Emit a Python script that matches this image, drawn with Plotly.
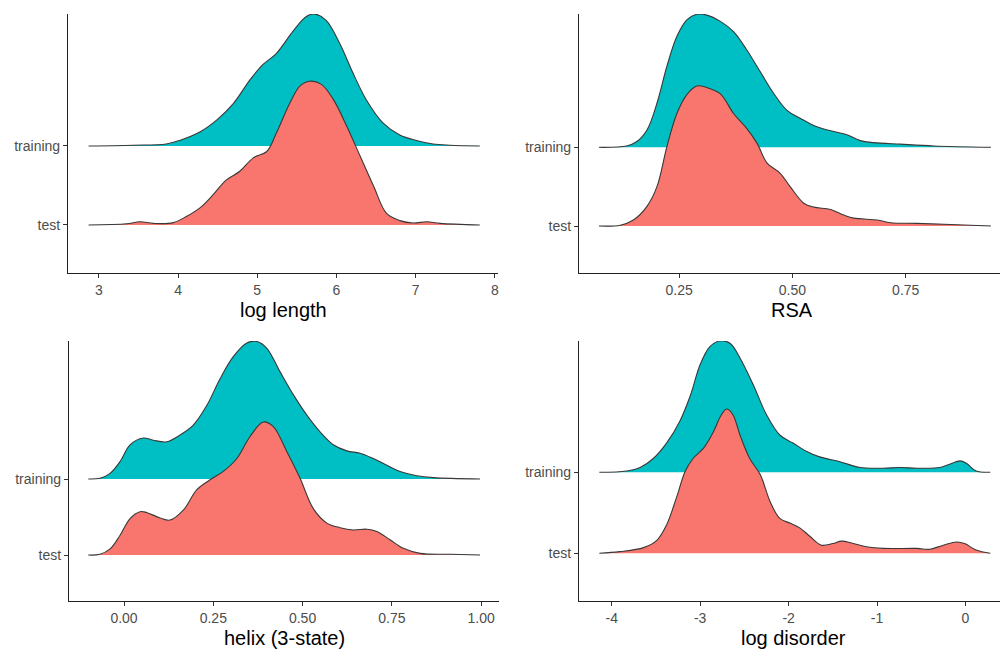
import plotly.graph_objects as go

# ---------------- data (ridge heights in units of category spacing) ----------------
# Panel 1: log length
len_train_x = [2.87, 3.43, 3.85, 4.02, 4.28, 4.49, 4.70, 4.91, 5.07, 5.24, 5.45, 5.62, 5.73, 5.87, 6.04, 6.21, 6.38, 6.59, 6.80, 7.01, 7.22, 7.43, 7.81]
len_train_h = [0.0, 0.01, 0.025, 0.07, 0.18, 0.33, 0.54, 0.84, 1.03, 1.17, 1.45, 1.64, 1.67, 1.59, 1.30, 0.92, 0.58, 0.29, 0.14, 0.07, 0.025, 0.01, 0.0]
len_test_x = [2.87, 3.35, 3.52, 3.69, 3.94, 4.11, 4.28, 4.44, 4.61, 4.78, 4.95, 5.12, 5.24, 5.41, 5.54, 5.66, 5.81, 5.96, 6.13, 6.30, 6.47, 6.63, 6.80, 6.97, 7.14, 7.31, 7.81]
len_test_h = [0.0, 0.015, 0.04, 0.02, 0.03, 0.11, 0.22, 0.38, 0.57, 0.68, 0.85, 0.93, 1.16, 1.54, 1.76, 1.82, 1.78, 1.59, 1.25, 0.87, 0.49, 0.15, 0.055, 0.025, 0.04, 0.02, 0.0]

# Panel 2: RSA
rsa_train_x = [0.073, 0.134, 0.156, 0.179, 0.201, 0.223, 0.245, 0.267, 0.289, 0.311, 0.341, 0.370, 0.399, 0.429, 0.458, 0.488, 0.517, 0.554, 0.591, 0.620, 0.650, 0.679, 0.738, 0.812, 0.938]
rsa_train_h = [0.0, 0.017, 0.07, 0.22, 0.56, 1.03, 1.41, 1.62, 1.69, 1.68, 1.60, 1.47, 1.24, 0.96, 0.69, 0.47, 0.37, 0.26, 0.20, 0.16, 0.085, 0.06, 0.04, 0.017, 0.0]
rsa_test_x = [0.073, 0.120, 0.149, 0.179, 0.201, 0.223, 0.245, 0.267, 0.289, 0.311, 0.341, 0.370, 0.399, 0.422, 0.444, 0.473, 0.495, 0.525, 0.547, 0.584, 0.613, 0.635, 0.687, 0.716, 0.775, 0.849, 0.938]
rsa_test_h = [0.0, 0.01, 0.076, 0.25, 0.50, 1.01, 1.43, 1.67, 1.78, 1.76, 1.68, 1.43, 1.24, 1.05, 0.80, 0.67, 0.50, 0.29, 0.24, 0.21, 0.14, 0.10, 0.076, 0.042, 0.034, 0.02, 0.0]

# Panel 3: helix (3-state)
hel_train_x = [-0.10, -0.067, -0.039, -0.011, 0.017, 0.054, 0.082, 0.12, 0.157, 0.194, 0.232, 0.269, 0.306, 0.344, 0.372, 0.40, 0.437, 0.474, 0.512, 0.549, 0.586, 0.624, 0.661, 0.698, 0.736, 0.773, 0.82, 0.866, 0.997]
hel_train_h = [0.0, 0.01, 0.075, 0.23, 0.45, 0.54, 0.51, 0.49, 0.58, 0.71, 0.97, 1.32, 1.61, 1.79, 1.81, 1.72, 1.41, 1.11, 0.84, 0.62, 0.45, 0.37, 0.34, 0.27, 0.18, 0.10, 0.044, 0.018, 0.0]
hel_test_x = [-0.10, -0.067, -0.039, -0.011, 0.017, 0.045, 0.063, 0.10, 0.129, 0.166, 0.204, 0.241, 0.278, 0.316, 0.353, 0.39, 0.418, 0.456, 0.493, 0.53, 0.568, 0.605, 0.642, 0.68, 0.708, 0.745, 0.782, 0.829, 0.913, 0.997]
hel_test_h = [0.0, 0.01, 0.08, 0.26, 0.48, 0.57, 0.56, 0.49, 0.46, 0.59, 0.86, 0.99, 1.10, 1.27, 1.56, 1.75, 1.69, 1.36, 1.01, 0.61, 0.42, 0.36, 0.33, 0.34, 0.31, 0.20, 0.088, 0.022, 0.01, 0.0]

# Panel 4: log disorder
dis_train_x = [-4.14, -3.83, -3.68, -3.53, -3.38, -3.23, -3.11, -3.0, -2.89, -2.78, -2.66, -2.55, -2.40, -2.25, -2.10, -1.95, -1.80, -1.65, -1.42, -1.19, -0.93, -0.74, -0.55, -0.29, -0.18, -0.06, 0.01, 0.12, 0.28]
dis_train_h = [0.0, 0.016, 0.058, 0.17, 0.36, 0.63, 0.95, 1.33, 1.55, 1.62, 1.59, 1.41, 1.08, 0.71, 0.46, 0.36, 0.26, 0.19, 0.13, 0.058, 0.05, 0.058, 0.05, 0.058, 0.10, 0.14, 0.11, 0.016, 0.0]
dis_test_x = [-4.14, -3.91, -3.64, -3.49, -3.38, -3.27, -3.17, -3.08, -2.96, -2.85, -2.76, -2.70, -2.63, -2.55, -2.44, -2.32, -2.21, -2.10, -1.98, -1.87, -1.76, -1.63, -1.50, -1.40, -1.27, -1.12, -0.93, -0.55, -0.40, -0.25, -0.10, -0.01, 0.12, 0.28]
dis_test_h = [0.0, 0.02, 0.07, 0.16, 0.35, 0.68, 1.01, 1.17, 1.30, 1.50, 1.71, 1.78, 1.71, 1.46, 1.17, 0.97, 0.64, 0.43, 0.37, 0.31, 0.21, 0.10, 0.12, 0.15, 0.12, 0.08, 0.06, 0.06, 0.05, 0.10, 0.14, 0.12, 0.04, 0.0]

groups = ["test", "training"]
group_colors = {"training": "#00BFC4", "test": "#F8766D"}

panels = [
    dict(title="log length", train=(len_train_x, len_train_h), test=(len_test_x, len_test_h),
         tickvals=[3, 4, 5, 6, 7, 8], ticktext=["3", "4", "5", "6", "7", "8"]),
    dict(title="RSA", train=(rsa_train_x, rsa_train_h), test=(rsa_test_x, rsa_test_h),
         tickvals=[0.25, 0.50, 0.75], ticktext=["0.25", "0.50", "0.75"]),
    dict(title="helix (3-state)", train=(hel_train_x, hel_train_h), test=(hel_test_x, hel_test_h),
         tickvals=[0.0, 0.25, 0.5, 0.75, 1.0], ticktext=["0.00", "0.25", "0.50", "0.75", "1.00"]),
    dict(title="log disorder", train=(dis_train_x, dis_train_h), test=(dis_test_x, dis_test_h),
         tickvals=[-4, -3, -2, -1, 0], ticktext=["-4", "-3", "-2", "-1", "0"]),
]

# ---------------- layout geometry (pixels) ----------------
W, H = 1000, 649
geom = [
    dict(x0=68, x1=498, y0=14, y1=273, xr=[2.61, 8.04], yr=[0.392, 3.671], tx=283),
    dict(x0=579, x1=1000, y0=14, y1=273, xr=[0.029, 0.958], yr=[0.403, 3.694], tx=792),
    dict(x0=69, x1=499, y0=341, y1=601, xr=[-0.154, 1.05], yr=[0.395, 3.816], tx=284),
    dict(x0=579, x1=1000, y0=341, y1=601, xr=[-4.37, 0.39], yr=[0.411, 3.62], tx=793),
]

fig = go.Figure()
layout = dict(
    width=W, height=H, margin=dict(l=0, r=0, t=0, b=0, autoexpand=False),
    paper_bgcolor="white", plot_bgcolor="white", showlegend=False,
    font=dict(family="Liberation Sans, Arial, sans-serif"),
)
annotations = []

for i, (p, g) in enumerate(zip(panels, geom)):
    n = "" if i == 0 else str(i + 1)
    xa, ya = "x" + n, "y" + n
    for grp in ["training", "test"]:
        xs, hs = p["train"] if grp == "training" else p["test"]
        base = groups.index(grp) + 1
        fig.add_trace(go.Scatter(x=xs, y=[base] * len(xs), mode="lines",
                                 line=dict(width=0, color="rgba(0,0,0,0)"),
                                 xaxis=xa, yaxis=ya, hoverinfo="skip"))
        fig.add_trace(go.Scatter(x=xs, y=[base + h for h in hs], mode="lines",
                                 fill="tonexty", fillcolor=group_colors[grp],
                                 line=dict(color="#383838", width=1.1, shape="spline", smoothing=1.0),
                                 xaxis=xa, yaxis=ya, name=grp))
    layout["xaxis" + n] = dict(
        domain=[g["x0"] / W, g["x1"] / W], range=g["xr"], anchor=ya, automargin=False,
        showgrid=False, zeroline=False, showline=True, linecolor="#222222", linewidth=1.1,
        ticks="outside", ticklen=4, tickwidth=1.1, tickcolor="#333333",
        tickvals=p["tickvals"], ticktext=p["ticktext"],
        tickfont=dict(size=14, color="#4D4D4D"),
    )
    layout["yaxis" + n] = dict(
        domain=[1 - g["y1"] / H, 1 - g["y0"] / H], range=g["yr"], anchor=xa, automargin=False,
        showgrid=False, zeroline=False, showline=True, linecolor="#222222", linewidth=1.1,
        ticks="outside", ticklen=4, tickwidth=1.1, tickcolor="#333333",
        tickvals=[1, 2], ticktext=groups,
        tickfont=dict(size=14, color="#4D4D4D"),
    )
    annotations.append(dict(
        text=p["title"], x=g["tx"] / W,
        y=1 - (g["y1"] + 37) / H, xref="paper", yref="paper",
        xanchor="center", yanchor="middle", showarrow=False,
        font=dict(size=20, color="black"),
    ))

layout["annotations"] = annotations
fig.update_layout(**layout)
fig.write_html("out.html", config={"displayModeBar": False},
               post_script="document.body.style.margin='0';document.body.style.overflow='hidden';")
